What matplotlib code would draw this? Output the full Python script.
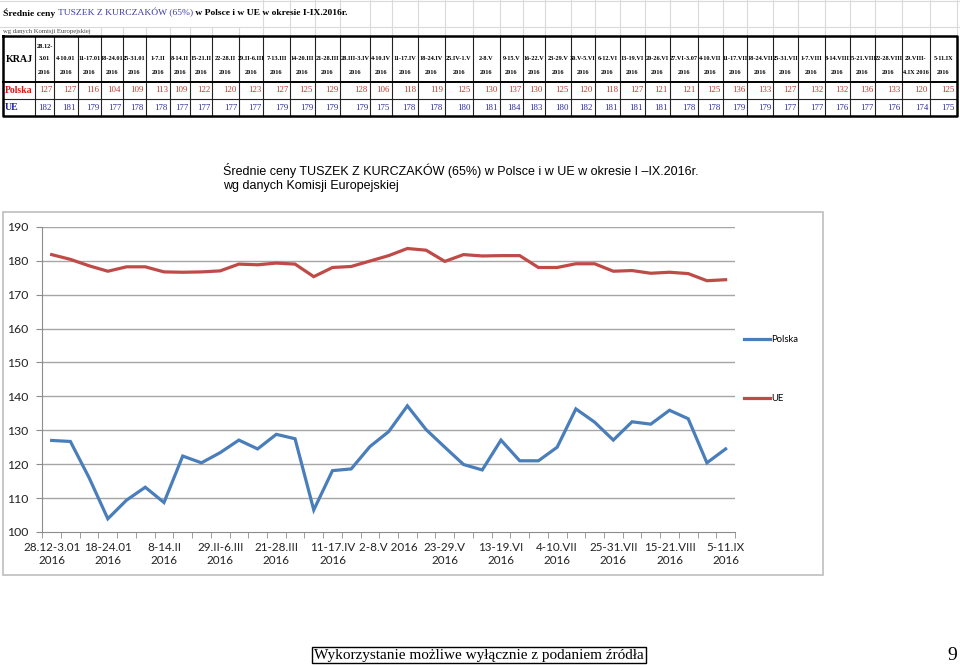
import matplotlib
matplotlib.use("Agg")
import matplotlib.pyplot as plt
from matplotlib.lines import Line2D

plt.rcParams['font.family'] = ['Liberation Sans', 'DejaVu Sans']

# tygodnie (kategorie)
weeks = ["28.12-3.01", "4-10.01", "11-17.01", "18-24.01", "25-31.01", "1-7.II", "8-14.II",
         "15-21.II", "22-28.II", "29.II-6.III", "7-13.III", "14-20.III", "21-28.III",
         "28.III-3.IV", "4-10.IV", "11-17.IV", "18-24.IV", "25.IV-1.V", "2-8.V", "9-15.V",
         "16-22.V", "23-29.V", "30.V-5.VI", "6-12.VI", "13-19.VI", "20-26.VI", "27.VI-3.07",
         "4-10.VII", "11-17.VII", "18-24.VII", "25-31.VII", "1-7.VIII", "8-14.VIII",
         "15-21.VIII", "22-28.VIII", "29.VIII-4.IX", "5-11.IX"]

# naglowki tabeli (tak jak w arkuszu)
table_heads = ["28.12-\n3.01\n2016"] + [w + "\n2016" for w in weeks[1:35]] + \
              ["29.VIII-\n4.IX 2016", "5-11.IX\n2016"]

# wartosci w tabeli (zaokraglone)
pl_table = [127, 127, 116, 104, 109, 113, 109, 122, 120, 123, 127, 125, 129, 128, 106, 118, 119, 125,
            130, 137, 130, 125, 120, 118, 127, 121, 121, 125, 136, 133, 127, 132, 132, 136, 133, 120, 125]
ue_table = [182, 181, 179, 177, 178, 178, 177, 177, 177, 177, 179, 179, 179, 179, 175, 178, 178, 180,
            181, 184, 183, 180, 182, 181, 181, 181, 178, 178, 179, 179, 177, 177, 176, 177, 176, 174, 175]

# wartosci na wykresie
pl_chart = [127.0, 126.7, 116.0, 103.9, 109.4, 113.2, 108.7, 122.4, 120.4, 123.4, 127.1, 124.5,
            128.8, 127.5, 106.5, 118.1, 118.6, 125.2, 129.6, 137.2, 130.2, 125.0, 119.9, 118.3,
            127.1, 121.0, 121.0, 125.0, 136.3, 132.4, 127.1, 132.5, 131.8, 135.9, 133.4, 120.4, 124.5]
ue_chart = [181.8, 180.4, 178.5, 176.9, 178.2, 178.2, 176.7, 176.6, 176.7, 177.0, 179.0, 178.8,
            179.3, 179.0, 175.3, 178.0, 178.3, 179.9, 181.5, 183.6, 183.1, 179.8, 181.8, 181.4,
            181.5, 181.5, 178.0, 178.0, 179.1, 179.1, 176.9, 177.1, 176.3, 176.6, 176.2, 174.1, 174.4]

chart_labels = [w + "\n2016" for w in weeks]
chart_labels[18] = "2-8.V 2016"

c_pl = '#4a7ebb'
c_ue = '#be4b48'
serif = ['Liberation Serif', 'DejaVu Serif']
sans = ['Lato', 'DejaVu Sans']

fig = plt.figure(figsize=(9.6, 6.65), dpi=100)
ax0 = fig.add_axes([0, 0, 1, 1])
ax0.set_xlim(0, 960)
ax0.set_ylim(665, 0)
ax0.axis('off')

# ---- tabela z arkusza ----
edges = [3, 35, 54, 78, 101, 123, 146, 170, 190, 212, 239, 263, 290, 315, 340, 370, 392, 418, 445,
         473, 500, 523, 545, 571, 595, 620, 645, 670, 698, 723, 747, 773, 798, 825, 850, 875, 902, 930, 957]
top, mid1, mid2, bot = 36, 82, 99, 116

# siatka arkusza nad tabela
for x in edges:
    if x > 262:
        ax0.plot([x, x], [0, 27], color='#dadada', lw=0.8)
    if x > 78:
        ax0.plot([x, x], [27, top], color='#dadada', lw=0.8)
ax0.plot([0, 960], [27, 27], color='#dadada', lw=0.8)
ax0.plot([0, 960], [1, 1], color='#dadada', lw=0.8)

# tytul arkusza z kolorowym fragmentem
rend = fig.canvas.get_renderer()
x = 3
for txt, col, wt in [("Średnie ceny ", 'black', 'bold'),
                     ("TUSZEK Z KURCZAKÓW (65%)", '#3b3ba6', 'normal'),
                     (" w Polsce i w UE w okresie I-IX.2016r.", 'black', 'bold')]:
    t = ax0.text(x, 13, txt, color=col, fontweight=wt, fontsize=6.8, family=serif,
                 va='center', ha='left')
    x = t.get_window_extent(rend).x1
ax0.text(3, 31.5, "wg danych Komisji Europejskiej", fontsize=4.8, family=serif,
         color='#444444', va='center')

# linie tabeli
for x in edges[1:-1]:
    ax0.plot([x, x], [top, bot], color='#222222', lw=0.8)
ax0.plot([edges[0], edges[-1]], [mid1, mid1], color='black', lw=1.4)
ax0.plot([edges[0], edges[-1]], [mid2, mid2], color='#222222', lw=0.8)
ax0.plot([edges[0], edges[-1], edges[-1], edges[0], edges[0]], [top, top, bot, bot, top],
         color='black', lw=1.8)

ax0.text((edges[0] + edges[1]) / 2, 59, "KRAJ", fontsize=7.2, fontweight='bold', family=serif,
         ha='center', va='center')
ax0.text(edges[0] + 2, (mid1 + mid2) / 2, "Polska", fontsize=7, fontweight='bold',
         family=serif, color='#e01010', ha='left', va='center')
ax0.text(edges[0] + 2, (mid2 + bot) / 2, "UE", fontsize=7, fontweight='bold',
         family=serif, color='#1a1aa8', ha='left', va='center')

for i, head in enumerate(table_heads):
    xc = (edges[i + 1] + edges[i + 2]) / 2
    lines = head.split("\n")
    for k, ln in enumerate(reversed(lines)):
        ax0.text(xc, 72 - 13 * k, ln, fontsize=4.5, fontweight='bold', family=serif,
                 ha='center', va='center')
    xr = edges[i + 2] - 2
    ax0.text(xr, (mid1 + mid2) / 2, str(pl_table[i]), fontsize=6.3, family=serif,
             color='#c0392b', ha='right', va='center')
    ax0.text(xr, (mid2 + bot) / 2, str(ue_table[i]), fontsize=6.3, family=serif,
             color='#2a2a9c', ha='right', va='center')

# ---- wykres ----
ax0.add_patch(plt.Rectangle((3, 212), 820, 363, fill=False, ec='#bdbdbd', lw=1.2))
ax0.text(223, 170, "Średnie ceny TUSZEK Z KURCZAKÓW (65%) w Polsce i w UE w okresie I –IX.2016r.",
         fontsize=9, ha='left', va='center')
ax0.text(223, 185.5, "wg danych Komisji Europejskiej", fontsize=9, ha='left', va='center')

ax = fig.add_axes([42.3 / 960, 1 - 532 / 665, (735 - 42.3) / 960, (532 - 226.8) / 665])
ax.patch.set_alpha(0)
xs = list(range(len(weeks)))
ax.plot(xs, pl_chart, color=c_pl, lw=2.3, solid_joinstyle='miter', label='Polska')
ax.plot(xs, ue_chart, color=c_ue, lw=2.3, solid_joinstyle='miter', label='UE')

ax.set_xlim(-0.5, len(weeks) - 0.5)
ax.set_ylim(100, 190)
ax.set_yticks(range(100, 191, 10))
for v in range(110, 191, 10):
    ax.axhline(v, color='#a6a6a6', lw=1, zorder=0)
for s in ['top', 'right']:
    ax.spines[s].set_visible(False)
for s in ['left', 'bottom']:
    ax.spines[s].set_color('#8c8c8c')
ax.set_xticks(xs[::3])
ax.set_xticklabels(chart_labels[::3], fontsize=8.4, family=sans,
                   color='#222222', linespacing=1.15)
ax.set_xticks([i - 0.5 for i in range(len(weeks) + 1)], minor=True)
ax.tick_params(axis='x', which='major', length=0, pad=7.5)
ax.tick_params(axis='x', which='minor', length=4, color='#8c8c8c', direction='out')
ax.tick_params(axis='y', length=4, color='#8c8c8c', pad=6, labelsize=8.8,
               labelcolor='#222222')
for lab in ax.get_yticklabels():
    lab.set_family(sans)

handles = [Line2D([], [], color=c_pl, lw=2.3), Line2D([], [], color=c_ue, lw=2.3)]
fig.legend(handles, ['Polska', 'UE'], loc='upper left', bbox_to_anchor=(744 / 960, 1 - 335 / 665),
           frameon=False, prop={'family': sans, 'size': 6.8},
           handlelength=2.7, handletextpad=0.2, labelspacing=5.3, borderpad=0, borderaxespad=0)

# ---- stopka ----
ax0.text(479, 655, "Wykorzystanie możliwe wyłącznie z podaniem źródła", fontsize=11, family=serif,
         ha='center', va='center',
         bbox=dict(boxstyle='square,pad=0.12', fc='white', ec='black', lw=1))
ax0.text(952, 655, "9", fontsize=14, family=serif, ha='center', va='center')

fig.savefig("out.png", dpi=100)
